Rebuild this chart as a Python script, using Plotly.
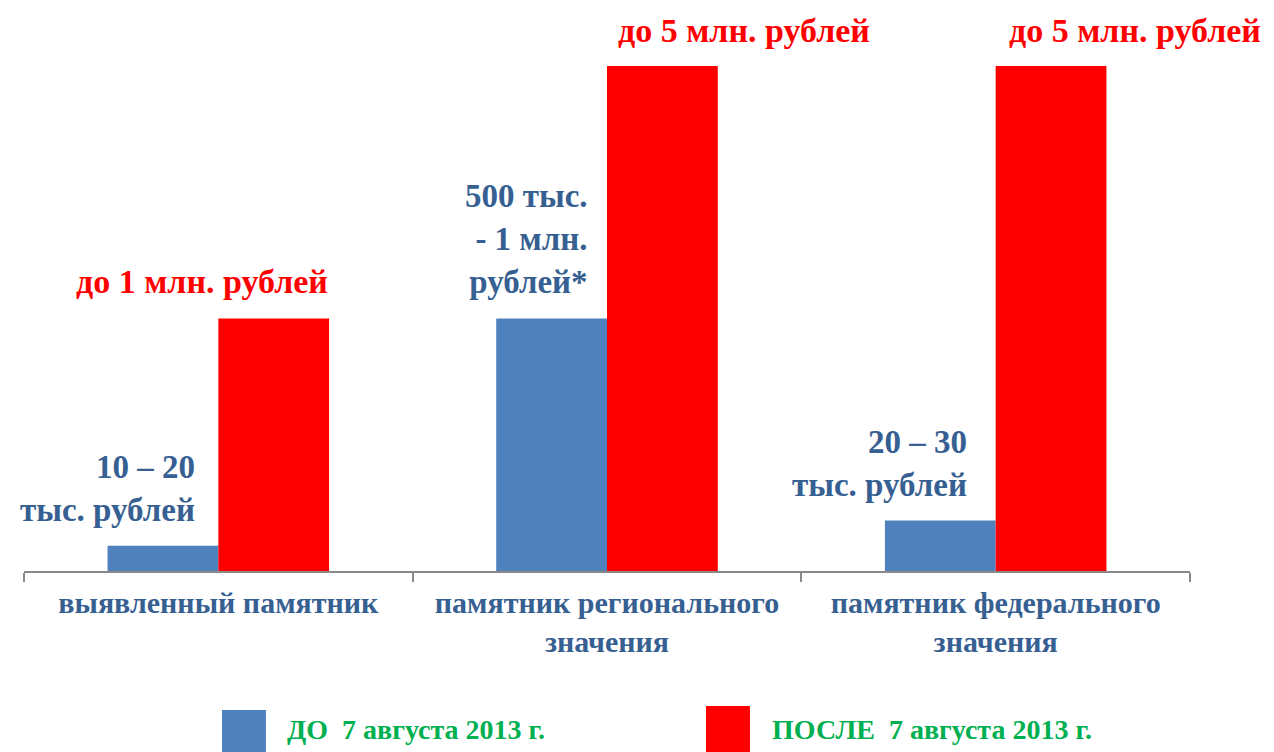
import plotly.graph_objects as go

categories = ["выявленный памятник", "памятник регионального<br>значения", "памятник федерального<br>значения"]
before_values = [5, 50, 10]
after_values = [50, 100, 100]
before_labels = ["10 – 20<br>тыс. рублей", "500 тыс.<br>- 1 млн.<br>рублей*", "20 – 30<br>тыс. рублей"]
after_labels = ["до 1 млн. рублей", "до 5 млн. рублей", "до 5 млн. рублей"]
legend_names = ["ДО  7 августа 2013 г.", "ПОСЛЕ  7 августа 2013 г."]

BLUE = "#4F81BD"
RED = "#FF0000"
LABEL_BLUE = "#376092"
GREEN = "#00B050"
SERIF = "Liberation Serif"

fig = go.Figure()
fig.add_trace(go.Bar(x=categories, y=before_values, marker_color=BLUE, name=legend_names[0],
                     marker_line_width=0))
fig.add_trace(go.Bar(x=categories, y=after_values, marker_color=RED, name=legend_names[1],
                     marker_line_width=0))

before_xshift = [-21, -17, -27]
before_yshift = [16, 17, 16]
after_xshift = [-16, 137, 139]
after_yshift = [18, 16, 16]

for i, cat in enumerate(categories):
    fig.add_annotation(x=cat, y=before_values[i], text=before_labels[i], showarrow=False,
                       xanchor="right", yanchor="bottom", align="right",
                       xshift=before_xshift[i], yshift=before_yshift[i],
                       font=dict(family=SERIF, size=33, color=LABEL_BLUE, weight="bold"))
    fig.add_annotation(x=cat, y=after_values[i], text=after_labels[i], showarrow=False,
                       xanchor="center", yanchor="bottom", borderpad=0,
                       xshift=after_xshift[i], yshift=after_yshift[i],
                       font=dict(family=SERIF, size=34, color=RED, weight="bold"))

# custom legend (boxes + text), positioned in paper coordinates
legend_colors = [BLUE, RED]
legend_box_x = [(0.1698, 0.2075), (0.5849, 0.6226)]
legend_box_top = [-0.247, -0.240]
legend_text_x = [0.2239, 0.6398]
for k in range(2):
    fig.add_shape(type="rect", xref="paper", yref="paper",
                  x0=legend_box_x[k][0], x1=legend_box_x[k][1],
                  y0=-0.40, y1=legend_box_top[k], fillcolor=legend_colors[k], line_width=0)
    fig.add_annotation(xref="paper", yref="paper", x=legend_text_x[k], y=-0.2824,
                       text=legend_names[k], showarrow=False, xanchor="left", yanchor="middle",
                       font=dict(family=SERIF, size=28, color=GREEN, weight="bold"))

fig.update_layout(
    width=1274, height=752,
    margin=dict(l=16, r=92, t=0, b=189),
    plot_bgcolor="white", paper_bgcolor="white",
    barmode="group", bargap=0.43, bargroupgap=0,
    showlegend=False,
    xaxis=dict(type="category", range=[-0.5, 2.5],
               tickson="boundaries", ticks="outside", ticklen=9, tickcolor="#898989", tickwidth=2,
               showline=True, linecolor="#898989", linewidth=2, showgrid=False,
               ticklabelstandoff=4,
               tickfont=dict(family=SERIF, size=30, color=LABEL_BLUE, weight="bold")),
    yaxis=dict(range=[0, 111.49], visible=False, showgrid=False, fixedrange=True),
)
fig.write_html("out.html")
